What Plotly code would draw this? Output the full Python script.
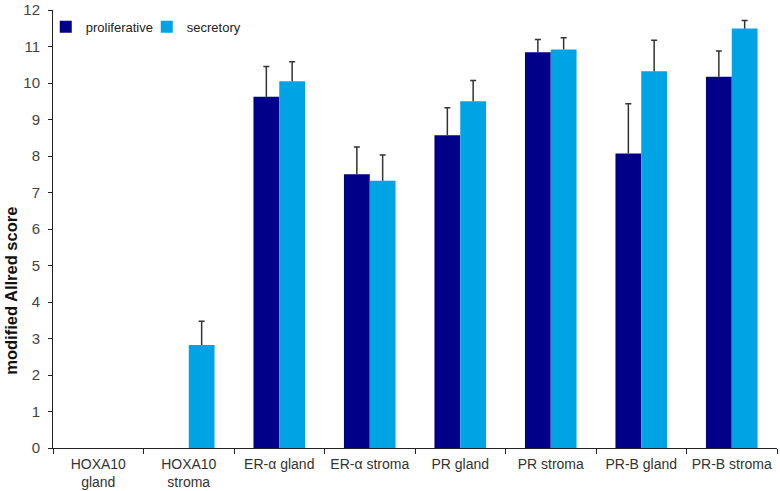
import plotly.graph_objects as go

categories = ["HOXA10<br>gland", "HOXA10<br>stroma", "ER-α gland", "ER-α stroma",
              "PR gland", "PR stroma", "PR-B gland", "PR-B stroma"]
proliferative = [0, 0, 9.62, 7.50, 8.57, 10.84, 8.07, 10.17]
proliferative_err = [0, 0, 0.83, 0.75, 0.75, 0.35, 1.36, 0.71]
secretory = [0, 2.82, 10.05, 7.32, 9.50, 10.92, 10.32, 11.49]
secretory_err = [0, 0.65, 0.53, 0.71, 0.57, 0.32, 0.85, 0.22]
y_ticks = list(range(0, 13))
y_title = "modified Allred score"

series = [
    ("proliferative", proliferative, proliferative_err, "#000088"),
    ("secretory", secretory, secretory_err, "#00A3E4"),
]
GAP = 0.43
ERR_COLOR = "#333333"

fig = go.Figure()
for name, vals, errs, color in series:
    ys = [v if v > 0 else None for v in vals]
    fig.add_trace(go.Bar(
        x=categories, y=ys, name=name,
        marker=dict(color=color, line=dict(width=0)),
        error_y=dict(type="data", symmetric=False,
                     array=[e if e > 0 else None for e in errs],
                     arrayminus=[0] * len(vals),
                     color=ERR_COLOR, thickness=1.5, width=0),
        hoverinfo="x+y+name",
    ))
# caps at the top end of each error bar (upper whisker only, as in the reference)
for name, vals, errs, color in series:
    tops = [v + e if e > 0 else None for v, e in zip(vals, errs)]
    fig.add_trace(go.Scatter(
        x=categories, y=tops, mode="markers", showlegend=False,
        marker=dict(size=1, opacity=0), hoverinfo="skip",
        error_y=dict(type="data", array=[0] * len(vals), color=ERR_COLOR,
                     thickness=1.5, width=3),
    ))

fig.update_layout(
    width=780, height=491,
    margin=dict(l=53, r=3, t=10, b=43, autoexpand=False),
    paper_bgcolor="white", plot_bgcolor="white",
    barmode="group", bargap=GAP, bargroupgap=0,
    scattermode="group", scattergap=GAP,
    font=dict(family="Liberation Sans, Arial, sans-serif", color="#333333", size=14),
    showlegend=True,
    legend=dict(orientation="h", x=-0.01, y=0.996, xanchor="left", yanchor="top",
                font=dict(size=13, color="#222222"), bgcolor="rgba(0,0,0,0)",
                itemwidth=30, entrywidth=56, tracegroupgap=0),
    yaxis=dict(range=[0, 12], tickvals=y_ticks, showgrid=False, zeroline=False,
               showline=True, linecolor="#222222", linewidth=1,
               ticks="outside", ticklen=4, tickcolor="#222222",
               tickfont=dict(size=15, color="#444444"), ticklabelstandoff=5,
               automargin=False),
    xaxis=dict(showgrid=False, showline=True, linecolor="#222222", linewidth=1,
               ticks="outside", ticklen=5, tickcolor="#222222", tickson="boundaries",
               tickfont=dict(size=14, color="#333333"), tickangle=0,
               ticklabelstandoff=3, automargin=False),
    annotations=[dict(
        text="<b>" + y_title + "</b>", textangle=-90, showarrow=False,
        xref="paper", yref="paper", x=0, y=0.359, xanchor="center", yanchor="middle",
        xshift=-42, font=dict(size=16.5, color="#111111"),
    )],
)

# remove the browser's default 8px body margin so the figure fills the window
fig.write_html("out.html", config={"displayModeBar": False},
               post_script="document.body.style.margin='0';")
